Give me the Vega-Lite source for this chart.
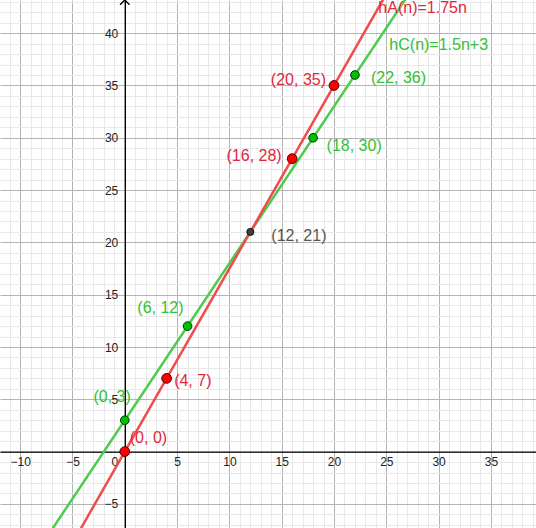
{
  "$schema": "https://vega.github.io/schema/vega-lite/v6.json",
  "width": 536,
  "height": 528,
  "padding": 0,
  "autosize": {"type": "none"},
  "background": "white",
  "config": {"view": {"stroke": null}, "text": {"font": "Liberation Sans", "fontSize": 16, "baseline": "middle"}},
  "datasets": {
    "lines": [
      {"fn": "hA", "n": -6, "h": -10.5},
      {"fn": "hA", "n": 30, "h": 52.5},
      {"fn": "hC", "n": -8, "h": -9},
      {"fn": "hC", "n": 30, "h": 48}
    ],
    "pts": [
      {"s": "A", "n": 0, "h": 0, "label": "(0, 0)"},
      {"s": "A", "n": 4, "h": 7, "label": "(4, 7)"},
      {"s": "A", "n": 16, "h": 28, "label": "(16, 28)"},
      {"s": "A", "n": 20, "h": 35, "label": "(20, 35)"},
      {"s": "C", "n": 0, "h": 3, "label": "(0, 3)"},
      {"s": "C", "n": 6, "h": 12, "label": "(6, 12)"},
      {"s": "C", "n": 18, "h": 30, "label": "(18, 30)"},
      {"s": "C", "n": 22, "h": 36, "label": "(22, 36)"},
      {"s": "both", "n": 12, "h": 21, "label": "(12, 21)"}
    ],
    "fnlabels": [
      {"fn": "hA", "n": 24, "h": 42, "label": "hA(n)=1.75n"},
      {"fn": "hC", "n": 24, "h": 39, "label": "hC(n)=1.5n+3"}
    ],
    "arrow": [{"n": 0, "h": 43.17}]
  },
  "encoding": {
    "x": {"field": "n", "type": "quantitative", "scale": {"domain": [-11.93, 39.31], "nice": false, "zero": false}},
    "y": {"field": "h", "type": "quantitative", "scale": {"domain": [-7.3, 43.17], "nice": false, "zero": false}}
  },
  "layer": [
    {
      "data": {"name": "lines"},
      "transform": [{"filter": "datum.fn === 'hC'"}],
      "mark": {"type": "line", "color": "#4ccc4c", "strokeWidth": 2.5, "clip": true},
      "encoding": {
        "x": {"field": "n", "type": "quantitative", "axis": {
          "orient": "bottom", "offset": -76.4, "title": null,
          "tickCount": 500, "format": "d",
          "values": [-11,-10,-9,-8,-7,-6,-5,-4,-3,-2,-1,0,1,2,3,4,5,6,7,8,9,10,11,12,13,14,15,16,17,18,19,20,21,22,23,24,25,26,27,28,29,30,31,32,33,34,35,36,37,38,39],
          "grid": true,
          "gridColor": {"condition": {"test": "datum.value % 5 === 0", "value": "#b4b4b4"}, "value": "#e8e8e8"},
          "gridWidth": 1,
          "ticks": false,
          "domainColor": "#000000", "domainWidth": 1.4,
          "labelExpr": "datum.value % 5 === 0 ? datum.label : ''",
          "labelFont": "Liberation Sans", "labelFontSize": 12, "labelColor": "#222222",
          "labelPadding": 5,
          "labelAlign": {"condition": {"test": "datum.value === 0", "value": "right"}, "value": "center"},
          "labelOffset": {"condition": {"test": "datum.value === 0", "value": -7}, "value": 0},
          "labelOverlap": false, "labelFlush": false, "labelBound": false
        }},
        "y": {"field": "h", "type": "quantitative", "axis": {
          "orient": "left", "offset": -124.8, "title": null,
          "tickCount": 500, "format": "d",
          "values": [-7,-6,-5,-4,-3,-2,-1,0,1,2,3,4,5,6,7,8,9,10,11,12,13,14,15,16,17,18,19,20,21,22,23,24,25,26,27,28,29,30,31,32,33,34,35,36,37,38,39,40,41,42,43],
          "grid": true,
          "gridColor": {"condition": {"test": "datum.value % 5 === 0", "value": "#b4b4b4"}, "value": "#e8e8e8"},
          "gridWidth": 1,
          "ticks": false,
          "domainColor": "#000000", "domainWidth": 1.4,
          "labelExpr": "datum.value % 5 === 0 && datum.value !== 0 ? datum.label : ''",
          "labelFont": "Liberation Sans", "labelFontSize": 12, "labelColor": "#222222",
          "labelPadding": 7,
          "labelBaseline": "middle",
          "labelOverlap": false, "labelFlush": false, "labelBound": false
        }}
      }
    },
    {
      "data": {"name": "lines"},
      "transform": [{"filter": "datum.fn === 'hA'"}],
      "mark": {"type": "line", "color": "#f04c4c", "strokeWidth": 2.5, "clip": true},
      "encoding": {}
    },
    {
      "data": {"name": "arrow"},
      "mark": {"type": "point", "shape": "M-1,1L0,0L1,1", "filled": false, "stroke": "#000000", "strokeWidth": 1.4, "size": 90, "opacity": 1},
      "encoding": {}
    },
    {
      "data": {"name": "pts"},
      "transform": [{"filter": "datum.s === 'A'"}],
      "mark": {"type": "point", "filled": true, "fill": "#ff0000", "stroke": "#4d0000", "strokeWidth": 1, "size": 95, "opacity": 1},
      "encoding": {}
    },
    {
      "data": {"name": "pts"},
      "transform": [{"filter": "datum.s === 'C'"}],
      "mark": {"type": "point", "filled": true, "fill": "#00c000", "stroke": "#003300", "strokeWidth": 1, "size": 75, "opacity": 1},
      "encoding": {}
    },
    {
      "data": {"name": "pts"},
      "transform": [{"filter": "datum.s === 'both'"}],
      "mark": {"type": "point", "filled": true, "fill": "#404040", "stroke": "#111111", "strokeWidth": 1, "size": 50, "opacity": 1},
      "encoding": {}
    },
    {
      "data": {"name": "pts"},
      "transform": [{"filter": "datum.label === '(0, 0)'"}],
      "mark": {"type": "text", "align": "left", "dx": 5, "dy": -14, "color": "#e0283c"},
      "encoding": {"text": {"field": "label"}}
    },
    {
      "data": {"name": "pts"},
      "transform": [{"filter": "datum.label === '(4, 7)'"}],
      "mark": {"type": "text", "align": "left", "dx": 7.5, "dy": 3, "color": "#e0283c"},
      "encoding": {"text": {"field": "label"}}
    },
    {
      "data": {"name": "pts"},
      "transform": [{"filter": "datum.label === '(16, 28)'"}],
      "mark": {"type": "text", "align": "right", "dx": -10.5, "dy": -3, "color": "#e0283c"},
      "encoding": {"text": {"field": "label"}}
    },
    {
      "data": {"name": "pts"},
      "transform": [{"filter": "datum.label === '(20, 35)'"}],
      "mark": {"type": "text", "align": "right", "dx": -8, "dy": -5.5, "color": "#e0283c"},
      "encoding": {"text": {"field": "label"}}
    },
    {
      "data": {"name": "pts"},
      "transform": [{"filter": "datum.label === '(0, 3)'"}],
      "mark": {"type": "text", "align": "right", "dx": 6, "dy": -23, "color": "#33bf33"},
      "encoding": {"text": {"field": "label"}}
    },
    {
      "data": {"name": "pts"},
      "transform": [{"filter": "datum.label === '(6, 12)'"}],
      "mark": {"type": "text", "align": "right", "dx": -4, "dy": -18, "color": "#33bf33"},
      "encoding": {"text": {"field": "label"}}
    },
    {
      "data": {"name": "pts"},
      "transform": [{"filter": "datum.label === '(18, 30)'"}],
      "mark": {"type": "text", "align": "left", "dx": 13.5, "dy": 8, "color": "#33bf33"},
      "encoding": {"text": {"field": "label"}}
    },
    {
      "data": {"name": "pts"},
      "transform": [{"filter": "datum.label === '(22, 36)'"}],
      "mark": {"type": "text", "align": "left", "dx": 16, "dy": 3, "color": "#33bf33"},
      "encoding": {"text": {"field": "label"}}
    },
    {
      "data": {"name": "pts"},
      "transform": [{"filter": "datum.label === '(12, 21)'"}],
      "mark": {"type": "text", "align": "left", "dx": 21, "dy": 4, "color": "#555555"},
      "encoding": {"text": {"field": "label"}}
    },
    {
      "data": {"name": "fnlabels"},
      "transform": [{"filter": "datum.fn === 'hA'"}],
      "mark": {"type": "text", "align": "left", "dx": 2.5, "dy": -4, "color": "#e0283c"},
      "encoding": {"text": {"field": "label"}}
    },
    {
      "data": {"name": "fnlabels"},
      "transform": [{"filter": "datum.fn === 'hC'"}],
      "mark": {"type": "text", "align": "left", "dx": 13.5, "dy": 1.3, "color": "#33bf33"},
      "encoding": {"text": {"field": "label"}}
    }
  ]
}
